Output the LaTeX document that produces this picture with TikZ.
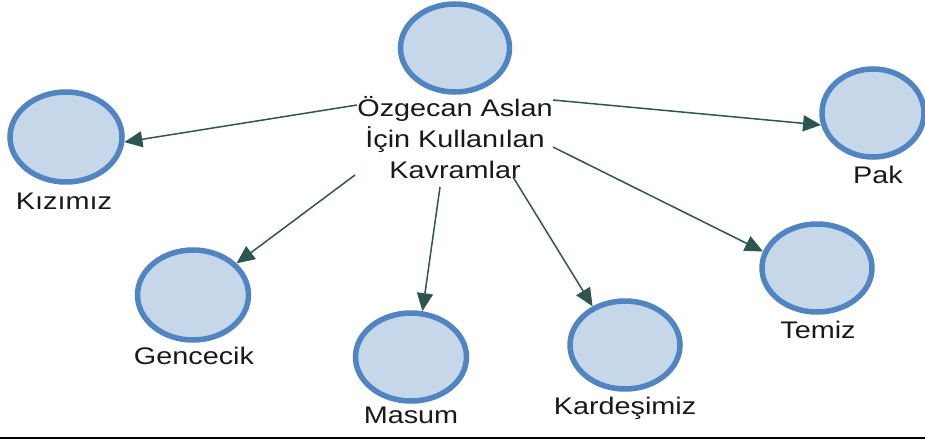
\documentclass[tikz,border=0pt]{standalone}
\usepackage{fontspec}
\setmainfont{Liberation Sans}[FakeStretch=1.2]
\usetikzlibrary{shapes.geometric,arrows.meta}
\definecolor{fillblue}{HTML}{C6D7E9}
\definecolor{edgeblue}{HTML}{5085C2}
\definecolor{arrowc}{HTML}{2E5650}
\begin{document}
\begin{tikzpicture}[x=1pt,y=-1pt,
  bubble/.style={ellipse,draw=edgeblue,fill=fillblue,line width=5.5pt,inner sep=0pt,minimum width=#1},
  lbl/.style={font=\fontsize{24}{31}\selectfont,inner sep=0pt,text=black!90},
  conn/.style={draw=arrowc,line width=1.5pt,-{Triangle[length=18pt,width=16pt]}}]
\useasboundingbox (0,0) rectangle (925,439);
% bubbles
\node[bubble=109pt,minimum height=88pt] (top) at (455,48) {};
\node[bubble=112pt,minimum height=90pt] (kiz) at (66,137) {};
\node[bubble=102pt,minimum height=88pt] (pak) at (873,113) {};
\node[bubble=111pt,minimum height=90pt] (gen) at (193,295) {};
\node[bubble=111pt,minimum height=88pt] (mas) at (411,357) {};
\node[bubble=110pt,minimum height=88pt] (kar) at (625,345) {};
\node[bubble=110pt,minimum height=88pt] (tem) at (817,268) {};
% labels
\node[lbl,align=center] (center) at (455,138) {Özgecan Aslan\\İçin Kullanılan\\Kavramlar};
\node[lbl] (lkiz) at (64,201) {Kızımız};
\node[lbl] (lpak) at (878,175) {Pak};
\node[lbl] (lgen) at (194,356) {Gencecik};
\node[lbl] (lmas) at (411,415) {Masum};
\node[lbl] (lkar) at (625,408) {Kardeşimiz};
\node[lbl] (ltem) at (818,330) {Temiz};
% connector start points
\coordinate (s1) at (357,105);
\coordinate (s2) at (553,100);
\coordinate (s3) at (553,147);
\coordinate (s4) at (513,177);
\coordinate (s5) at (440,187);
\coordinate (s6) at (355,175);
\draw[conn] (s1) -- (kiz.-5);
\draw[conn] (s2) -- (pak.193);
\draw[conn] (s3) -- (tem.163);
\draw[conn] (s4) -- (kar.130);
\draw[conn] (s5) -- (mas.76);
\draw[conn] (s6) -- (gen.36);
% bottom rule
\coordinate (b1) at (0,438);
\coordinate (b2) at (925,438);
\draw[line width=2pt,black] (b1) -- (b2);
\end{tikzpicture}
\end{document}
